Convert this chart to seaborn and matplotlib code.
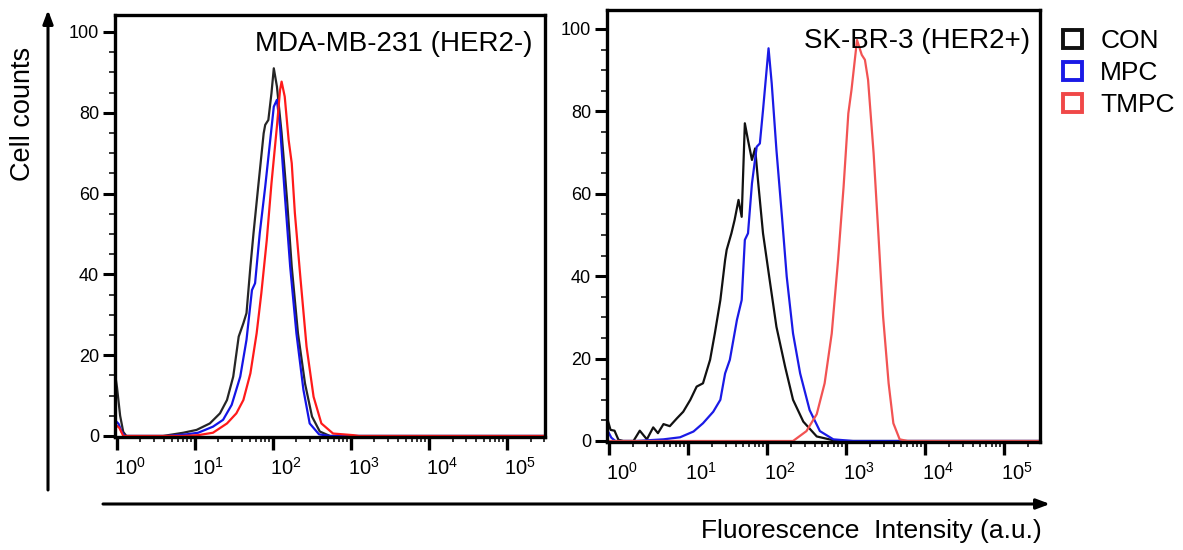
import numpy as np
import pandas as pd
import matplotlib
matplotlib.use("Agg")
import matplotlib.pyplot as plt
import matplotlib.ticker as mticker
from matplotlib.patches import Patch, FancyArrowPatch
from matplotlib.transforms import ScaledTranslation
import seaborn as sns

groups = ["CON", "MPC", "TMPC"]
decades = [0, 1, 2, 3, 4, 5]

# MDA-MB-231 (HER2-): x = log10 fluorescence, y = cell counts
mda_con_x = [-0.03, 0.00, 0.04, 0.08, 0.12, 0.59, 0.85, 1.02, 1.19, 1.32, 1.41, 1.49, 1.56, 1.62, 1.66,
             1.71, 1.75, 1.81, 1.88, 1.90, 1.94, 1.98, 2.01, 2.05, 2.11, 2.18, 2.24, 2.32, 2.41, 2.50,
             2.60, 2.73, 5.6]
mda_con_y = [16, 12, 5, 1, 0, 0, 0.8, 1.5, 3.1, 5.6, 8.9, 14.7, 24.6, 27.9, 30.4,
             41.9, 50.2, 61.7, 74.9, 77, 78.2, 84.8, 91, 86.5, 75, 58.4, 41.9, 25.4, 13, 4.8,
             1.1, 0, 0]
mda_mpc_x = [-0.03, 0.02, 0.06, 0.10, 0.64, 0.89, 1.04, 1.23, 1.36, 1.47, 1.58, 1.66, 1.73, 1.77,
             1.83, 1.90, 1.96, 2.01, 2.05, 2.09, 2.15, 2.22, 2.30, 2.39, 2.47, 2.59, 2.73, 5.6]
mda_mpc_y = [4, 3, 1, 0, 0, 0.4, 0.8, 2.3, 4, 7.7, 14.7, 23.8, 36.1, 37.8,
             50.2, 61.7, 72.5, 81.5, 83.2, 76.6, 60, 41.9, 25.4, 11.4, 3.1, 0.4, 0, 0]
mda_tmpc_x = [-0.03, 0.03, 0.08, 0.85, 1.04, 1.23, 1.41, 1.53, 1.62, 1.71, 1.79, 1.85, 1.92, 1.98,
              2.05, 2.09, 2.11, 2.15, 2.20, 2.24, 2.28, 2.35, 2.43, 2.52, 2.62, 2.77, 3.03, 3.10, 5.6]
mda_tmpc_y = [3, 2, 0, 0, 0.2, 0.8, 3.1, 5.6, 8.9, 15.5, 25.4, 35.3, 48.5, 62.5,
              76.6, 85.6, 87.7, 84, 73.3, 67.5, 55.2, 39.4, 22.1, 9.7, 3.1, 0.6, 0.2, 0, 0]

# SK-BR-3 (HER2+)
sk_con_x = [-0.03, 0.02, 0.07, 0.12, 0.18, 0.31, 0.39, 0.48, 0.56, 0.62, 0.69, 0.77, 0.86, 0.94,
            1.03, 1.11, 1.19, 1.28, 1.34, 1.41, 1.47, 1.49, 1.55, 1.59, 1.64, 1.68, 1.72, 1.76,
            1.81, 1.85, 1.89, 1.95, 2.04, 2.12, 2.23, 2.33, 2.46, 2.63, 2.88, 5.6]
sk_con_y = [6, 2.7, 2.5, 0.3, 0, 0, 2.5, 0.4, 3.3, 1.9, 4.1, 3.6, 5.5, 7.1,
            10, 13.2, 14, 19.7, 26.1, 34.2, 43.9, 46.4, 50.4, 53.6, 58.5, 54.4, 77.1, 73,
            68.2, 71, 62.5, 50.4, 38.3, 27.7, 18, 10, 4.7, 1.1, 0, 0]
sk_mpc_x = [-0.03, 0.03, 0.08, 0.34, 0.69, 0.90, 1.07, 1.19, 1.32, 1.41, 1.47, 1.53, 1.62, 1.68,
            1.72, 1.76, 1.81, 1.87, 1.91, 1.95, 2.02, 2.06, 2.12, 2.19, 2.25, 2.33, 2.42, 2.54,
            2.67, 2.84, 3.09, 5.6]
sk_mpc_y = [3, 0.8, 0, 0, 0.4, 0.9, 2.3, 4.3, 7.1, 10, 16.4, 19.7, 29.4, 34.2,
            48.8, 50.4, 62.5, 71.4, 72.2, 80.3, 95.3, 86.8, 70.6, 54.4, 39.9, 26.1, 16.4, 7.5,
            2.4, 0.4, 0, 0]
sk_tmpc_x = [-0.03, 2.33, 2.50, 2.63, 2.73, 2.82, 2.90, 2.97, 3.03, 3.07, 3.14, 3.20, 3.24, 3.28,
             3.35, 3.41, 3.47, 3.54, 3.60, 3.68, 3.78, 5.6]
sk_tmpc_y = [0, 0, 2.4, 6.5, 14, 26.1, 43.9, 61.7, 79.5, 85.2, 97.3, 93.7, 92.5, 87.6,
             69.8, 50.4, 30.2, 14, 4.3, 0.4, 0, 0]

pal_left = {"CON": "#262626", "MPC": "#1414e6", "TMPC": "#ff1a1a"}
pal_right = {"CON": "#111111", "MPC": "#1a1ae6", "TMPC": "#f25353"}
legend_colors = ["#111111", "#1a1ae6", "#f04848"]


def panel_frame(series):
    parts = []
    for name, (lx, cnt) in zip(groups, series):
        parts.append(pd.DataFrame({"intensity": np.power(10.0, lx), "count": cnt, "group": name}))
    return pd.concat(parts, ignore_index=True)


sns.set_style("ticks")
plt.rcParams["font.family"] = ["Liberation Sans", "DejaVu Sans"]
plt.rcParams["mathtext.default"] = "regular"
for key in ["text.color", "axes.labelcolor", "xtick.color", "ytick.color", "axes.edgecolor"]:
    plt.rcParams[key] = "black"

fig = plt.figure(figsize=(11.83, 5.5), dpi=100)
ax_l = fig.add_axes([0.0972, 0.2055, 0.3635, 0.7673])
ax_r = fig.add_axes([0.5131, 0.1964, 0.3660, 0.7855])

panels = [
    (ax_l, panel_frame([(mda_con_x, mda_con_y), (mda_mpc_x, mda_mpc_y), (mda_tmpc_x, mda_tmpc_y)]),
     pal_left, "MDA-MB-231 (HER2-)", (-0.026, 5.487), (-0.25, 104.2), 0.972, 0.962),
    (ax_r, panel_frame([(sk_con_x, sk_con_y), (sk_mpc_x, sk_mpc_y), (sk_tmpc_x, sk_tmpc_y)]),
     pal_right, "SK-BR-3 (HER2+)", (-0.025, 5.456), (-0.24, 104.6), 0.977, 0.958),
]

for ax, df, pal, title, xl, yl, tx, ty in panels:
    sns.lineplot(data=df, x="intensity", y="count", hue="group", palette=pal,
                 estimator=None, sort=False, linewidth=1.6, legend=False, ax=ax)
    ax.set_xscale("log")
    ax.set_xlim(10 ** xl[0], 10 ** xl[1])
    ax.set_ylim(*yl)
    ax.set_xlabel("")
    ax.set_ylabel("")
    for sp in ax.spines.values():
        sp.set_linewidth(2.4)
        sp.set_color("black")
        sp.set_zorder(5)

    ax.xaxis.set_major_locator(mticker.FixedLocator([10.0 ** d for d in decades]))
    ax.xaxis.set_major_formatter(mticker.FixedFormatter([r"$10^{%d}$" % d for d in decades]))
    ax.xaxis.set_minor_locator(mticker.LogLocator(base=10, subs=np.arange(2, 10), numticks=20))
    ax.xaxis.set_minor_formatter(mticker.NullFormatter())
    ax.yaxis.set_major_locator(mticker.MultipleLocator(20))
    ax.yaxis.set_minor_locator(mticker.MultipleLocator(5))

    ax.tick_params(axis="x", which="major", direction="out", length=9.5, width=2.4,
                   labelsize=14.5, pad=5)
    ax.tick_params(axis="x", which="minor", direction="out", length=3.5, width=1.1)
    ax.tick_params(axis="y", which="major", direction="out", length=8.5, width=2.2,
                   labelsize=13, pad=3)
    ax.tick_params(axis="y", which="minor", direction="out", length=4.5, width=1.1)

    for lab in ax.get_xticklabels():
        lab.set_transform(lab.get_transform() + ScaledTranslation(0.13, 0, fig.dpi_scale_trans))

    ax.text(tx, ty, title, transform=ax.transAxes, ha="right", va="top", fontsize=20)

handles = [Patch(facecolor="white", edgecolor=c, linewidth=2.8) for c in legend_colors]
fig.legend(handles, groups, loc="upper left", bbox_to_anchor=(1058 / 1183, 1 - 24 / 550),
           frameon=False, fontsize=19, handlelength=0.7, handleheight=0.7,
           handletextpad=0.7, labelspacing=0.3, borderaxespad=0, borderpad=0.2)

# long axis arrows
fig.add_artist(FancyArrowPatch(
    (48 / 1183, 1 - 490 / 550), (48 / 1183, 1 - 10 / 550), transform=fig.transFigure,
    arrowstyle="-|>,head_length=8,head_width=3", linewidth=2.2, color="black",
    shrinkA=0, shrinkB=0))
fig.add_artist(FancyArrowPatch(
    (103 / 1183, 1 - 504 / 550), (1050 / 1183, 1 - 504 / 550), transform=fig.transFigure,
    arrowstyle="-|>,head_length=8,head_width=3", linewidth=2.2, color="black",
    shrinkA=0, shrinkB=0))

fig.text(23 / 1183, 1 - 114 / 550, "Cell counts", rotation=90, ha="center", va="center",
         fontsize=19.5)
fig.text(871 / 1183, 1 - 538 / 550, "Fluorescence  Intensity (a.u.)", ha="center",
         va="baseline", fontsize=19)

fig.savefig("out.png", dpi=100)
